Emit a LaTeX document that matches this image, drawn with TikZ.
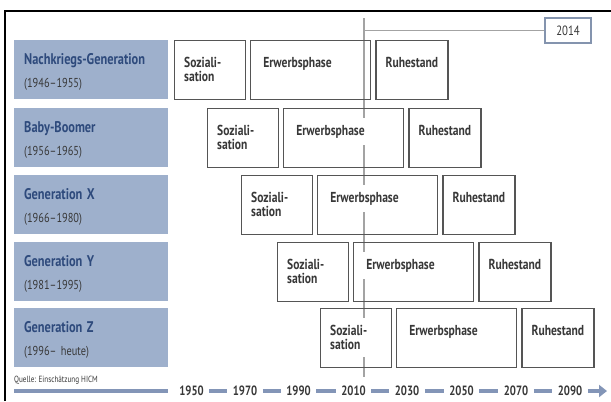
\documentclass[tikz,border=0pt]{standalone}
\usepackage{fontspec}
\setmainfont[FakeStretch=0.8]{PT Sans}
\usetikzlibrary{positioning, arrows.meta}
\pgfdeclarelayer{back}
\pgfsetlayers{back,main}
\definecolor{genfill}{HTML}{9EB0CC}
\definecolor{genblue}{HTML}{2E4A7C}
\definecolor{txtgray}{HTML}{383838}
\definecolor{boxgray}{HTML}{555555}
\definecolor{nowgray}{HTML}{A3A3A3}
\definecolor{axisblue}{HTML}{8395B7}
\definecolor{tagblue}{HTML}{8494AE}
\tikzset{
gen/.style={fill=genfill, anchor=north west, minimum width=154bp, minimum height=59bp, text width=134bp, inner xsep=10bp, inner ysep=0pt, align=left, text=txtgray, font=\fontsize{13}{23}\selectfont}, % blue generation boxes
phase/.style={draw=boxgray, line width=1.2bp, anchor=north west, minimum height=59bp, inner sep=0pt}, % empty phase frame
phtxt/.style={anchor=north west, yshift=-10bp, fill=white, inner xsep=4bp, inner ysep=7bp, align=left, text=txtgray, font=\bfseries\fontsize{14.5}{14.5}\selectfont}, % phase text, white behind it
soz/.style={phase, minimum width=71bp, label={[phtxt, xshift=6bp]north west:Soziali-\\sation}},
erw/.style={phase, minimum width=120bp, label={[phtxt, xshift=9bp]north west:Erwerbsphase}},
ruh/.style={phase, minimum width=72bp, label={[phtxt, xshift=6bp]north west:Ruhestand}},
year/.style={inner sep=0pt, text=txtgray, font=\bfseries\fontsize{13.5}{14}\selectfont}, % years on the time axis
axis/.style={axisblue, line width=4bp, shorten <=5.5bp, shorten >=5.5bp}, % time axis pieces
nowline/.style={nowgray, line width=2.4bp}, % the 2014 line
}
\newcommand{\genhead}[1]{{\bfseries\color{genblue}\fontsize{15.5}{23}\selectfont\rule{0pt}{15bp}#1}}

\begin{document}
\begin{tikzpicture}[x=1bp, y=-1bp]
        \useasboundingbox (0,0) rectangle (611,401);
        \draw[black, line width=1.8bp] (5,401) -- (5,11) -- (611,11);

        % 2014
        \coordinate (nowtop) at (364,18);
        \coordinate (nowbot) at (364,377);
        \node[draw=tagblue, line width=1.5bp, minimum width=46bp, minimum height=25bp, inner sep=0pt, text=txtgray, font=\fontsize{13.5}{14}\selectfont] (tag) at (568,30.5) {2014};
        \begin{pgfonlayer}{back}
        \draw[nowline] (nowtop) -- (nowbot);
        \end{pgfonlayer}
        \draw[nowgray, line width=1.4bp] (nowtop |- tag.west) -- (tag.west);

        % generations
        \node[gen] (ng) at (14,40) {\genhead{Nachkriegs-Generation}\\(1946--1955)};
        \node[gen] (bb) at (14,108) {\genhead{Baby-Boomer}\\(1956--1965)};
        \node[gen] (gx) at (14,175) {\genhead{Generation X}\\(1966--1980)};
        \node[gen] (gy) at (14,242) {\genhead{Generation Y}\\(1981--1995)};
        \node[gen] (gz) at (14,308) {\genhead{Generation Z}\\(1996-- heute)};

        % phases
        \node[soz] (s1) at (174,40) {};
        \node[erw, right=4bp of s1] (e1) {};
        \node[ruh, right=4bp of e1] (r1) {};

        \node[soz] (s2) at (207,108) {};
        \node[erw, right=4bp of s2] (e2) {};
        \node[ruh, right=4bp of e2] (r2) {};

        \node[soz] (s3) at (241,175) {};
        \node[erw, right=4bp of s3] (e3) {};
        \node[ruh, right=4bp of e3] (r3) {};

        \node[soz] (s4) at (277,242) {};
        \node[erw, right=4bp of s4] (e4) {};
        \node[ruh, right=4bp of e4] (r4) {};

        \node[soz] (s5) at (320,308) {};
        \node[erw, right=4bp of s5] (e5) {};
        \node[ruh, right=4bp of e5] (r5) {};

        % time axis
        \node[anchor=base west, inner sep=0pt, text=txtgray, font=\fontsize{9}{9}\selectfont] (src) at (14,382) {Quelle: Einschätzung HICM};
        \coordinate (axstart) at (14,391);
        \coordinate (axend) at (607,391);
        \node[year] (y1950) at (191.5,391) {1950};
        \node[year] (y1970) at (245,391) {1970};
        \node[year] (y1990) at (298.5,391) {1990};
        \node[year] (y2010) at (353.5,391) {2010};
        \node[year] (y2030) at (407,391) {2030};
        \node[year] (y2050) at (461.5,391) {2050};
        \node[year] (y2070) at (516,391) {2070};
        \node[year] (y2090) at (570,391) {2090};
        \draw[axis, shorten <=0pt, shorten >=11bp] (axstart) -- (y1950.west);
        \draw[axis] (y1950) -- (y1970);
        \draw[axis] (y1970) -- (y1990);
        \draw[axis] (y1990) -- (y2010);
        \draw[axis] (y2010) -- (y2030);
        \draw[axis] (y2030) -- (y2050);
        \draw[axis] (y2050) -- (y2070);
        \draw[axis] (y2070) -- (y2090);
        \draw[axis, shorten >=0pt, -{Triangle[length=8bp, width=12bp]}] (y2090.east) -- (axend);
    \end{tikzpicture}
\end{document}
